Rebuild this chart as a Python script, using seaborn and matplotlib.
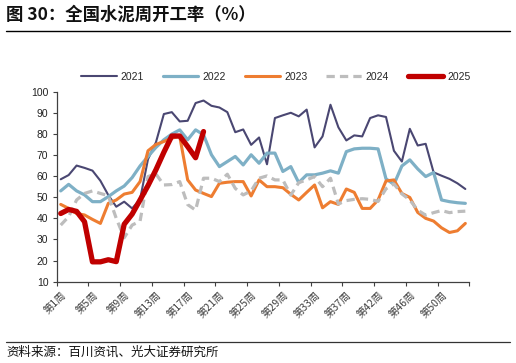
import matplotlib
matplotlib.use("Agg")
import matplotlib.pyplot as plt
import seaborn as sns
import numpy as np
import pandas as pd

weeks = list(range(1, 41)) + list(range(42, 54))
week_labels = [f"第{w}周" for w in weeks]

y2021 = [58.5, 60.5, 65.0, 63.9, 62.6, 57.8, 51.0, 45.5, 47.9, 44.7,
         49.0, 68.0, 76.0, 89.4, 90.3, 85.9, 86.2, 94.6, 95.8, 93.3,
         92.5, 90.3, 80.8, 82.1, 74.8, 78.3, 65.6, 87.5, 88.8, 90.0,
         88.3, 91.5, 73.6, 78.8, 93.8, 83.1, 76.9, 79.3, 78.8, 87.5,
         88.8, 88.0, 72.0, 66.9, 82.4, 74.5, 75.3, 61.8, 60.2, 58.7,
         56.6, 53.9]
y2022 = [53.0, 56.1, 53.0, 51.1, 47.9, 47.9, 50.3, 53.0, 55.3, 59.3,
         64.8, 69.3, 73.6, 77.2, 79.9, 81.9, 77.2, 81.9, 79.6, 70.1,
         64.5, 66.9, 69.3, 65.3, 70.1, 66.1, 70.9, 70.9, 62.2, 64.5,
         56.9, 60.6, 60.6, 61.4, 62.5, 61.4, 71.6, 72.9, 73.2, 73.2,
         72.9, 58.7, 56.1, 64.8, 67.7, 63.4, 59.8, 61.7, 48.7, 47.9,
         47.4, 47.1]
y2023 = [46.6, 44.7, 42.3, 41.6, 39.5, 37.6, 47.1, 48.7, 51.5, 52.3,
         57.4, 72.0, 75.0, 76.4, 78.0, 78.8, 58.2, 53.4, 51.8, 50.3,
         56.6, 57.1, 57.4, 57.4, 50.6, 58.2, 55.0, 55.0, 54.5, 51.4,
         48.7, 52.3, 55.8, 45.0, 47.9, 46.6, 53.9, 52.3, 44.7, 44.7,
         48.7, 57.7, 58.2, 51.8, 49.9, 42.8, 40.0, 38.7, 35.5, 33.3,
         34.1, 37.6]
y2024 = [36.8, 40.8, 48.7, 51.8, 53.0, 51.8, 50.7, 40.0, 30.8, 36.8,
         38.7, 59.8, 61.0, 55.8, 56.0, 57.4, 46.5, 43.9, 59.0, 59.0,
         57.4, 60.9, 54.2, 51.1, 53.0, 59.0, 60.1, 58.2, 58.2, 51.0,
         56.9, 58.2, 59.8, 55.0, 59.0, 46.8, 48.4, 49.0, 49.3, 49.0,
         48.0, 54.0, 56.3, 51.6, 48.7, 43.9, 41.5, 42.7, 43.7, 42.7,
         43.2, 43.4]
y2025 = [42.3, 44.2, 43.3, 38.4, 19.4, 19.4, 20.4, 19.5, 37.2, 42.0,
         48.7, 55.5, 63.0, 71.3, 79.0, 79.0, 74.0, 68.7, 81.1]

series_names = ["2021", "2022", "2023", "2024", "2025"]
series_values = [y2021, y2022, y2023, y2024, y2025]
colors = ["#4A4772", "#7EB0C6", "#EE7D31", "#BDBDBD", "#C00000"]
widths = [1.5, 2.3, 2.2, 2.3, 3.8]

sns.set_theme(style="white")
plt.rcParams["font.family"] = ["Liberation Sans", "Noto Sans CJK SC", "DejaVu Sans"]

fig = plt.figure(figsize=(5.16, 3.63), dpi=100)
ax = fig.add_axes([0.110, 0.224, 0.7995, 0.5235])

for name, vals, c, lw in zip(series_names, series_values, colors, widths):
    df = pd.DataFrame({"idx": np.arange(len(vals)), "val": vals})
    sns.lineplot(data=df, x="idx", y="val", ax=ax, color=c, linewidth=lw,
                 label=name, legend=False)
    line = ax.lines[-1]
    if name == "2024":
        line.set_dashes((2.6, 1.6))
        line.set_dash_capstyle("butt")

ax.set_xlim(-0.5, len(weeks) - 0.5)
ax.set_ylim(10, 100)
ax.set_yticks(range(10, 101, 10))
ax.set_xlabel("")
ax.set_ylabel("")

# tick marks at category boundaries, labels at category centers
ax.set_xticks(np.arange(-0.5, len(weeks), 4))
ax.set_xticklabels([])
label_pos = np.arange(0, len(weeks), 4)
ax.set_xticks(label_pos, minor=True)
ax.set_xticklabels([week_labels[i] for i in label_pos], minor=True,
                   rotation=45, ha="right", va="top", rotation_mode="anchor",
                   fontsize=7.5, color="#404040",
                   family=["Noto Sans CJK SC", "DejaVu Sans"])
ax.tick_params(axis="x", which="major", direction="out", length=3, width=0.8,
               color="#404040", bottom=True)
ax.tick_params(axis="x", which="minor", length=0, pad=6, bottom=True)
ax.tick_params(axis="y", direction="out", length=3, width=0.8, color="#404040",
               labelsize=7.5, labelcolor="#222222", left=True, pad=3)

for s in ["top", "right"]:
    ax.spines[s].set_visible(False)
for s in ["left", "bottom"]:
    ax.spines[s].set_color("#404040")
    ax.spines[s].set_linewidth(0.9)
ax.grid(False)

handles = ax.lines[:5]
fig.legend(handles, series_names, loc="center", bbox_to_anchor=(0.535, 0.789),
           ncol=5, frameon=False, fontsize=7.5, handlelength=3.4,
           handletextpad=0.4, columnspacing=1.8, borderaxespad=0)

cjk = ["Noto Sans CJK SC", "DejaVu Sans"]
fig.text(0.012, 0.958, "图 30：全国水泥周开工率（%）", fontsize=12.5,
         fontweight="bold", family=cjk, va="center", ha="left", color="#111111")
fig.add_artist(plt.Line2D([0.012, 0.988], [0.915, 0.915], color="black",
                          linewidth=1.0, transform=fig.transFigure))
fig.add_artist(plt.Line2D([0.012, 0.988], [0.059, 0.059], color="#333333",
                          linewidth=0.9, transform=fig.transFigure))
fig.text(0.012, 0.030, "资料来源：百川资讯、光大证券研究所", fontsize=9,
         family=cjk, va="center", ha="left", color="#111111")

fig.savefig("out.png", dpi=100)
